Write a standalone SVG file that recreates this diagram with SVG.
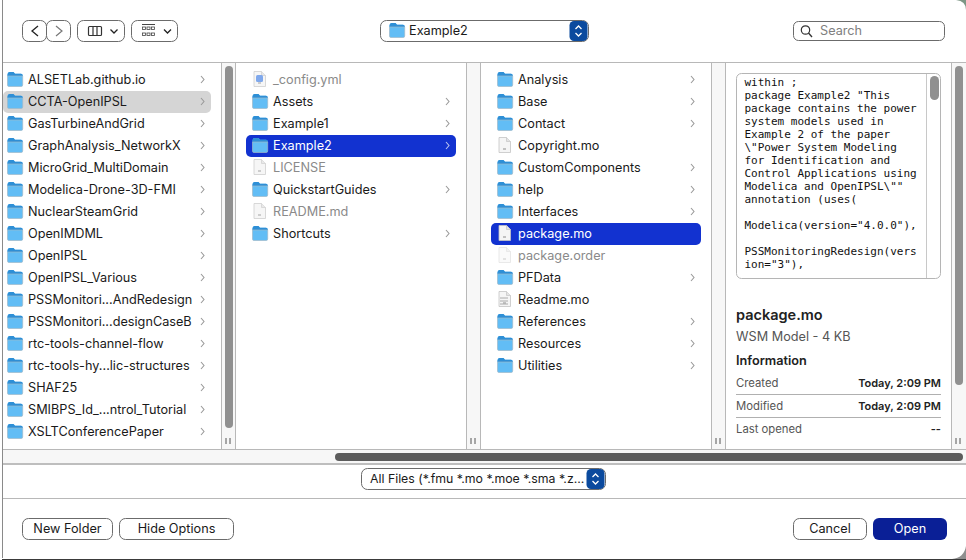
<svg xmlns="http://www.w3.org/2000/svg" width="966" height="560" viewBox="0 0 966 560">
<style>
text{font-family:Inter,"Liberation Sans",Arial,sans-serif;font-size:12.700px;fill:#1a1a1a}
.dim{fill:#8a8a8a}.sel{fill:#fff}
.mono{font-family:"DejaVu Sans Mono",monospace;font-size:11px;fill:#111}
.btn{fill:#fff;stroke:#6b6b6b;stroke-width:1}
.sep{stroke:#b8b8b8;stroke-width:1;fill:none}
.chev{fill:none;stroke:#9a9a9a;stroke-width:1.1}
.tool{fill:none;stroke:#333;stroke-width:1.2}
.grip{stroke:#555;stroke-width:1}
.bar{fill:#909090}
.info{font-size:11.300px;fill:#555}.val{font-size:11px;fill:#222;font-weight:600;text-anchor:end}
</style>
<defs>
<g id="folder"><path d="M0.5 3.5Q0.5 1 2.5 1H6.5L8 2.8H14Q15.7 2.8 15.7 4.5V14Q15.7 15.5 14 15.5H2Q0.5 15.5 0.5 14Z" fill="#62bdf5"/><path d="M0.5 3.5Q0.5 1 2.5 1H6.5L8 2.8H14Q15.7 2.8 15.7 4.5V5H0.5Z" fill="#2e8fd6"/><path d="M0.5 5H15.7V14Q15.7 15.5 14 15.5H2Q0.5 15.5 0.5 14Z" fill="none" stroke="#9fb9c9" stroke-width="0.7"/></g>
<g id="doc"><path d="M2 0.5H9.5L13.5 4.5V15.5H2Z" fill="#f5f5f5" stroke="#c4c4c4" stroke-width="0.8"/><path d="M9.5 0.5V4.5H13.5" fill="#e4e4e4" stroke="#c4c4c4" stroke-width="0.7"/><path d="M6 12H9" stroke="#8d8d8d"/></g>
<path id="ch" class="chev" d="M0 0L3 3.5L0 7"/>
<g id="stepper"><rect width="18" height="20" rx="4.500" fill="#0b4a9e"/><path d="M6 8L9 5L12 8M6 12L9 15L12 12" fill="none" stroke="#fff" stroke-width="1.300"/></g>
<g id="gripmark"><path class="grip" d="M0 0V6M4 0V6"/></g>
</defs>

<rect width="966" height="560" fill="#fff"/>
<g id="window-frame">
<path d="M956 0Q966 1 966 10V0Z" fill="#7d9685"/>
<path d="M966 546Q964 558 952 559H966Z" fill="#8f8f8f"/>
<path d="M2.500 0V558" fill="none" stroke="#8a8a8a"/>
<path d="M2 559.500H966" fill="none" stroke="#3a3a3a"/>
</g>

<g id="column-gutters">
<rect x="222" y="63" width="13" height="386" fill="#f7f7f7"/>
<rect x="467" y="63" width="13" height="386" fill="#f7f7f7"/>
<rect x="712" y="63" width="13" height="386" fill="#f7f7f7"/>
<rect x="952" y="63" width="14" height="386" fill="#f7f7f7"/>
<rect x="3" y="450" width="963" height="13" fill="#f7f7f7"/>
</g>
<g id="dividers">
<path class="sep" d="M3 62.500H966M3 449.500H966M3 498.500H966"/>
<path d="M3 464H966" stroke="#a8a8a8" stroke-width="1.500"/>
<path class="sep" d="M221.500 63V449M235.500 63V449M466.500 63V449M480.500 63V449M711.500 63V449M725.500 63V449M951.500 63V449"/>
</g>

<g id="toolbar">
<g id="nav-back"><rect class="btn" x="22.500" y="20.500" width="24" height="21" rx="6"/><path d="M38 26L32 31L38 36" fill="none" stroke="#222" stroke-width="1.300"/></g>
<g id="nav-forward"><rect class="btn" x="46.500" y="20.500" width="24" height="21" rx="6"/><path d="M56 26L62 31L56 36" fill="none" stroke="#777" stroke-width="1.200"/></g>
<g id="view-mode"><rect class="btn" x="77.500" y="20.500" width="47" height="21" rx="6"/><rect class="tool" x="88.500" y="26.500" width="13" height="9" rx="1"/><path class="tool" d="M93 26.500V35.500M97 26.500V35.500"/><path d="M110.500 29.500L114 33L117.500 29.500" fill="none" stroke="#222" stroke-width="1.300"/></g>
<g id="group-mode"><rect class="btn" x="131.500" y="20.500" width="46" height="21" rx="6"/><path d="M142 24.500H155" stroke="#444"/><g fill="none" stroke="#444" stroke-width=".8"><rect x="142.500" y="27" width="3" height="2.500"/><rect x="147" y="27" width="3" height="2.500"/><rect x="151.500" y="27" width="3" height="2.500"/><rect x="142.500" y="33" width="3" height="2.500"/><rect x="147" y="33" width="3" height="2.500"/><rect x="151.500" y="33" width="3" height="2.500"/></g><path d="M164 29.500L167.500 33L171 29.500" fill="none" stroke="#222" stroke-width="1.300"/></g>
<g id="path-popup"><rect class="btn" x="380.500" y="20.500" width="208" height="21" rx="6"/><use href="#folder" x="389" y="22"/><text x="409" y="35">Example2</text><use href="#stepper" x="569.500" y="21"/></g>
<g id="search"><rect class="btn" x="793.500" y="21.500" width="151" height="19" rx="5"/><circle cx="805.500" cy="30" r="4.200" fill="none" stroke="#333" stroke-width="1.200"/><path d="M808.500 33L812 37" stroke="#333" stroke-width="1.300"/><text x="820" y="35" style="fill:#808080">Search</text></g>
</g>

<g id="column-1">
<rect id="selection-1" x="3" y="91" width="208" height="22" rx="5" fill="#d5d5d5"/>
<g id="c1-1"><use href="#folder" x="7" y="71"/><text x="28" y="84">ALSETLab.github.io</text><use href="#ch" x="201" y="76"/></g>
<g id="c1-2"><use href="#folder" x="7" y="93"/><text x="28" y="106">CCTA-OpenIPSL</text><use href="#ch" x="201" y="98"/></g>
<g id="c1-3"><use href="#folder" x="7" y="115"/><text x="28" y="128">GasTurbineAndGrid</text><use href="#ch" x="201" y="120"/></g>
<g id="c1-4"><use href="#folder" x="7" y="137"/><text x="28" y="150">GraphAnalysis_NetworkX</text><use href="#ch" x="201" y="142"/></g>
<g id="c1-5"><use href="#folder" x="7" y="159"/><text x="28" y="172">MicroGrid_MultiDomain</text><use href="#ch" x="201" y="164"/></g>
<g id="c1-6"><use href="#folder" x="7" y="181"/><text x="28" y="194">Modelica-Drone-3D-FMI</text><use href="#ch" x="201" y="186"/></g>
<g id="c1-7"><use href="#folder" x="7" y="203"/><text x="28" y="216">NuclearSteamGrid</text><use href="#ch" x="201" y="208"/></g>
<g id="c1-8"><use href="#folder" x="7" y="225"/><text x="28" y="238">OpenIMDML</text><use href="#ch" x="201" y="230"/></g>
<g id="c1-9"><use href="#folder" x="7" y="247"/><text x="28" y="260">OpenIPSL</text><use href="#ch" x="201" y="252"/></g>
<g id="c1-10"><use href="#folder" x="7" y="269"/><text x="28" y="282">OpenIPSL_Various</text><use href="#ch" x="201" y="274"/></g>
<g id="c1-11"><use href="#folder" x="7" y="291"/><text x="28" y="304">PSSMonitori...AndRedesign</text><use href="#ch" x="201" y="296"/></g>
<g id="c1-12"><use href="#folder" x="7" y="313"/><text x="28" y="326">PSSMonitori...designCaseB</text><use href="#ch" x="201" y="318"/></g>
<g id="c1-13"><use href="#folder" x="7" y="335"/><text x="28" y="348">rtc-tools-channel-flow</text><use href="#ch" x="201" y="340"/></g>
<g id="c1-14"><use href="#folder" x="7" y="357"/><text x="28" y="370">rtc-tools-hy...lic-structures</text><use href="#ch" x="201" y="362"/></g>
<g id="c1-15"><use href="#folder" x="7" y="379"/><text x="28" y="392">SHAF25</text><use href="#ch" x="201" y="384"/></g>
<g id="c1-16"><use href="#folder" x="7" y="401"/><text x="28" y="414">SMIBPS_Id_...ntrol_Tutorial</text><use href="#ch" x="201" y="406"/></g>
<g id="c1-17"><use href="#folder" x="7" y="423"/><text x="28" y="436">XSLTConferencePaper</text><use href="#ch" x="201" y="428"/></g>
<rect class="bar" x="225" y="66" width="8" height="362" rx="4"/>
<use href="#gripmark" x="226" y="438"/>
</g>

<g id="column-2">
<rect id="selection-2" x="246" y="135" width="210" height="22" rx="5" fill="#1232d0"/>
<g id="c2-1"><use href="#doc" x="252" y="71" opacity=".8"/><rect x="256" y="75" width="7" height="7" rx="1.500" fill="#7fa8ec"/><text class="dim" x="273" y="84">_config.yml</text></g>
<g id="c2-2"><use href="#folder" x="252" y="93"/><text x="273" y="106">Assets</text><use href="#ch" x="446" y="98"/></g>
<g id="c2-3"><use href="#folder" x="252" y="115"/><text x="273" y="128">Example1</text><use href="#ch" x="446" y="120"/></g>
<g id="c2-4"><use href="#folder" x="252" y="137"/><text class="sel" x="273" y="150">Example2</text><path d="M446 142L449 145.500L446 149" fill="none" stroke="#b9c3ee" stroke-width="1.100"/></g>
<g id="c2-5"><use href="#doc" x="252" y="159" opacity=".8"/><text class="dim" x="273" y="172">LICENSE</text></g>
<g id="c2-6"><use href="#folder" x="252" y="181"/><text x="273" y="194">QuickstartGuides</text><use href="#ch" x="446" y="186"/></g>
<g id="c2-7"><use href="#doc" x="252" y="203" opacity=".8"/><text class="dim" x="273" y="216">README.md</text></g>
<g id="c2-8"><use href="#folder" x="252" y="225"/><text x="273" y="238">Shortcuts</text><use href="#ch" x="446" y="230"/></g>
<use href="#gripmark" x="471" y="438"/>
</g>

<g id="column-3">
<rect id="selection-3" x="491" y="223" width="210" height="22" rx="5" fill="#1232d0"/>
<g id="c3-1"><use href="#folder" x="497" y="71"/><text x="518" y="84">Analysis</text><use href="#ch" x="691" y="76"/></g>
<g id="c3-2"><use href="#folder" x="497" y="93"/><text x="518" y="106">Base</text><use href="#ch" x="691" y="98"/></g>
<g id="c3-3"><use href="#folder" x="497" y="115"/><text x="518" y="128">Contact</text><use href="#ch" x="691" y="120"/></g>
<g id="c3-4"><use href="#doc" x="497" y="137"/><text x="518" y="150">Copyright.mo</text></g>
<g id="c3-5"><use href="#folder" x="497" y="159"/><text x="518" y="172">CustomComponents</text><use href="#ch" x="691" y="164"/></g>
<g id="c3-6"><use href="#folder" x="497" y="181"/><text x="518" y="194">help</text><use href="#ch" x="691" y="186"/></g>
<g id="c3-7"><use href="#folder" x="497" y="203"/><text x="518" y="216">Interfaces</text><use href="#ch" x="691" y="208"/></g>
<g id="c3-8"><use href="#doc" x="497" y="225"/><text class="sel" x="518" y="238">package.mo</text></g>
<g id="c3-9"><use href="#doc" x="497" y="247" opacity=".45"/><text class="dim" x="518" y="260">package.order</text></g>
<g id="c3-10"><use href="#folder" x="497" y="269"/><text x="518" y="282">PFData</text><use href="#ch" x="691" y="274"/></g>
<g id="c3-11"><use href="#doc" x="497" y="291"/><path d="M500 298H508M500 301H508M500 304H508" stroke="#aaa"/><text x="518" y="304">Readme.mo</text></g>
<g id="c3-12"><use href="#folder" x="497" y="313"/><text x="518" y="326">References</text><use href="#ch" x="691" y="318"/></g>
<g id="c3-13"><use href="#folder" x="497" y="335"/><text x="518" y="348">Resources</text><use href="#ch" x="691" y="340"/></g>
<g id="c3-14"><use href="#folder" x="497" y="357"/><text x="518" y="370">Utilities</text><use href="#ch" x="691" y="362"/></g>
<use href="#gripmark" x="716" y="438"/>
</g>

<g id="preview">
<rect x="736.500" y="73.500" width="204" height="205" rx="5" fill="#fff" stroke="#b5b5b5"/>
<path d="M926.500 74V278" stroke="#c8c8c8"/>
<rect class="bar" x="930" y="76" width="9" height="24" rx="4.500"/>
<text class="mono"><tspan x="744.500" y="86">within ;</tspan><tspan x="744.500" y="99">package Example2 "This</tspan><tspan x="744.500" y="112">package contains the power</tspan><tspan x="744.500" y="125">system models used in</tspan><tspan x="744.500" y="138">Example 2 of the paper</tspan><tspan x="744.500" y="151">\"Power System Modeling</tspan><tspan x="744.500" y="164">for Identification and</tspan><tspan x="744.500" y="177">Control Applications using</tspan><tspan x="744.500" y="190">Modelica and OpenIPSL\""</tspan><tspan x="744.500" y="203">annotation (uses(</tspan><tspan x="744.500" y="229">Modelica(version="4.0.0"),</tspan><tspan x="744.500" y="255">PSSMonitoringRedesign(vers</tspan><tspan x="744.500" y="268">ion="3"),</tspan></text>
<text x="736" y="320" style="font-size:14.500px;font-weight:600;fill:#222">package.mo</text>
<text x="736" y="341" style="fill:#555">WSM Model - 4 KB</text>
<text x="736" y="365" style="font-weight:600;fill:#222">Information</text>
<text class="info" x="736" y="387">Created</text><text class="val" x="941" y="387">Today, 2:09 PM</text>
<path d="M736 394.500H941M736 417.500H941" stroke="#b0b0b0"/>
<text class="info" x="736" y="410">Modified</text><text class="val" x="941" y="410">Today, 2:09 PM</text>
<text class="info" x="736" y="433">Last opened</text><text class="val" x="941" y="433">--</text>
<rect class="bar" x="955" y="66" width="8" height="319" rx="4"/>
<use href="#gripmark" x="956" y="438"/>
</g>

<rect id="horizontal-scrollbar" x="335" y="453" width="628" height="8" rx="4" fill="#5c5c5c"/>

<g id="filter-popup"><rect class="btn" x="361.500" y="468.500" width="244" height="21" rx="6"/><text x="370" y="483" style="font-size:12.300px">All Files (*.fmu *.mo *.moe *.sma *.z...</text><use href="#stepper" x="586.500" y="469"/></g>

<g id="new-folder"><rect class="btn" x="22.500" y="518.500" width="90" height="21" rx="6"/><text x="67.500" y="533" text-anchor="middle">New Folder</text></g>
<g id="hide-options"><rect class="btn" x="119.500" y="518.500" width="114" height="21" rx="6"/><text x="176.500" y="533" text-anchor="middle">Hide Options</text></g>
<g id="cancel"><rect class="btn" x="793.500" y="518.500" width="73" height="21" rx="6"/><text x="830" y="533" text-anchor="middle">Cancel</text></g>
<g id="open"><rect x="873" y="518" width="74" height="22" rx="6" fill="#0a1f96"/><text class="sel" x="910" y="533" text-anchor="middle">Open</text></g>
</svg>
